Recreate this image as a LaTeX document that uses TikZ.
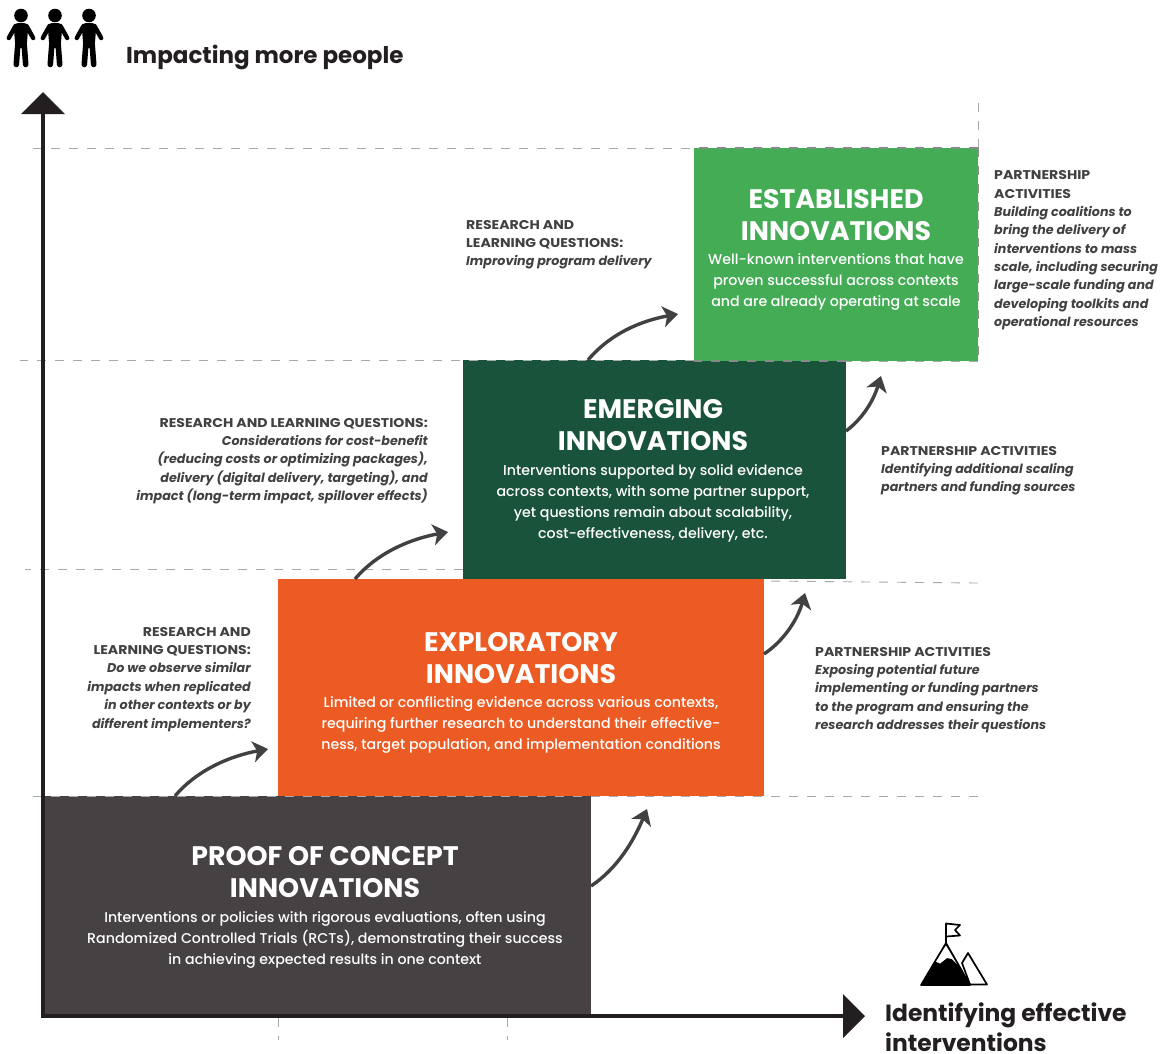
\documentclass[tikz,border=0pt]{standalone}
\usepackage{fontspec}
\setmainfont{Poppins}
\newfontfamily\bodyfont{Poppins Medium}
\newfontfamily\notehead[FakeStretch=1.11]{Poppins}
\usetikzlibrary{arrows.meta}
\definecolor{axisc}{HTML}{231F20}
\definecolor{notec}{HTML}{414042}
\definecolor{dashc}{HTML}{A7A9AC}
\definecolor{dashd}{HTML}{8A8A8A}
\definecolor{pocc}{HTML}{464243}
\definecolor{expc}{HTML}{EC5B23}
\definecolor{emec}{HTML}{1A533C}
\definecolor{estc}{HTML}{43AC55}
\newcommand{\nh}[1]{{\notehead\bfseries\upshape #1}}
\tikzset{
 x=1pt,y=-1pt,
 stagebox/.style={rectangle,inner sep=0pt,outer sep=0pt,anchor=north west},
 stagetitle/.style={text=white,align=center,font=\fontsize{26.8}{31.5}\selectfont\bfseries,inner sep=0pt},
 stagebody/.style={text=white,align=center,font=\bodyfont\fontsize{14.2}{21}\selectfont,inner sep=0pt},
 notel/.style={text=notec,align=left,font=\fontsize{12.7}{18.35}\selectfont\bfseries\itshape,inner sep=0pt,anchor=north west},
 noter/.style={text=notec,align=right,font=\fontsize{12.7}{18.35}\selectfont\bfseries\itshape,inner sep=0pt,anchor=north east},
 axislabel/.style={text=axisc,align=left,font=\fontsize{23}{30.5}\selectfont\bfseries,inner sep=0pt,anchor=west},
 axislabelx/.style={axislabel,font=\fontsize{23.4}{30.5}\selectfont\bfseries},
 guide/.style={dashc,line width=0.9pt,dash pattern=on 9pt off 9pt},
 guidedark/.style={dashd,line width=1.1pt,dash pattern=on 9pt off 9pt},
 axisline/.style={axisc,line width=4pt},
 flow/.style={notec,line width=3.4pt,-{Stealth[length=15pt,width=21pt,inset=4pt]}},
}
\newcommand{\personicon}[1]{%
 \begin{scope}[shift={(#1,0)},black,line cap=round]
  \fill (21,15.5) circle (6.8);
  \fill[rounded corners=3pt] (15,23) -- (27,23) -- (28,30) -- (26.5,48) -- (15.5,48) -- (14,30) -- cycle;
  \draw[line width=4.4pt] (15.5,26) -- (8.8,38);
  \draw[line width=4.4pt] (26.5,26) -- (33.2,38);
  \draw[line width=5.6pt] (18,42) -- (16.3,64.5);
  \draw[line width=5.6pt] (24,42) -- (25.7,64.5);
 \end{scope}}
\begin{document}
\begin{tikzpicture}
\useasboundingbox (0,0) rectangle (1164,1053);
\fill[white] (0,0) rectangle (1164,1053);
% boxes
\node[stagebox,fill=pocc,minimum width=547pt,minimum height=220pt] (poc) at (44,796) {};
\node[stagebox,fill=expc,minimum width=486pt,minimum height=217pt] (exp) at (278,579) {};
\node[stagebox,fill=emec,minimum width=383pt,minimum height=219pt] (eme) at (463,360) {};
\node[stagebox,fill=estc,minimum width=284pt,minimum height=213pt] (est) at (694,148) {};
% guides
\draw[guide] (690,148) -- (31,148);
\draw[guidedark] (978,148) -- (694,148);
\draw[guide] (694,360) -- (20,360);
\draw[guidedark] (846,361) -- (694,361);
\draw[guide] (978,361) -- (846,361);
\draw[guide] (463,569) -- (25,569);
\draw[guide] (978,583) -- (764,581);
\draw[guide] (978,796) -- (26,796);
\draw[guide] (978,148) -- (978,94);
\draw[guidedark] (978,148) -- (978,361);
\draw[guide] (278,1018) -- (278,1040);
\draw[guide] (507,1018) -- (507,1040);
% axes
\coordinate (origin) at (43,1016);
\coordinate (ytop) at (43,110);
\coordinate (xend) at (848,1016);
\draw[axisline] (43,1018) -- (ytop);
\draw[axisline] (origin) -- (xend);
\fill[axisc] (43,92) -- (65,114) -- (21,114) -- cycle;
\fill[axisc] (843,994) -- (865,1016) -- (843,1038) -- cycle;
% stage text
\node[stagetitle] (poct) at (325,872) {PROOF OF CONCEPT\\INNOVATIONS};
\node[stagebody] (pocb) at (325,939.5) {Interventions or policies with rigorous evaluations, often using\\Randomized Controlled Trials (RCTs), demonstrating their success\\in achieving expected results in one context};
\node[stagetitle] (expt) at (521,658) {EXPLORATORY\\INNOVATIONS};
\node[stagebody] (expb) at (521,725) {Limited or conflicting evidence across various contexts,\\requiring further research to understand their effective-\\ness, target population, and implementation conditions};
\node[stagetitle] (emet) at (653,425) {EMERGING\\INNOVATIONS};
\node[stagebody] (emeb) at (653,503.5) {Interventions supported by solid evidence\\across contexts, with some partner support,\\yet questions remain about scalability,\\cost-effectiveness, delivery, etc.};
\node[stagetitle] (estt) at (836,215) {ESTABLISHED\\INNOVATIONS};
\node[stagebody] (estb) at (836,282) {Well-known interventions that have\\proven successful across contexts\\and are already operating at scale};
% notes
\node[notel] (n1) at (466,220) {\nh{RESEARCH AND}\\\nh{LEARNING QUESTIONS:}\\Improving program delivery};
\node[notel] (n2) at (994,170.5) {\nh{PARTNERSHIP}\\\nh{ACTIVITIES}\\Building coalitions to\\bring the delivery of\\interventions to mass\\scale, including securing\\large-scale funding and\\developing toolkits and\\operational resources};
\node[noter] (n3) at (428,418) {\nh{RESEARCH AND LEARNING QUESTIONS:}\\Considerations for cost-benefit\\(reducing costs or optimizing packages),\\delivery (digital delivery, targeting), and\\impact (long-term impact, spillover effects)};
\node[notel] (n4) at (881,446) {\nh{PARTNERSHIP ACTIVITIES}\\Identifying additional scaling\\partners and funding sources};
\node[noter] (n5) at (251,627) {\nh{RESEARCH AND}\\\nh{LEARNING QUESTIONS:}\\Do we observe similar\\impacts when replicated\\in other contexts or by\\different implementers?};
\node[notel] (n6) at (815,647) {\nh{PARTNERSHIP ACTIVITIES}\\Exposing potential future\\implementing or funding partners\\to the program and ensuring the\\research addresses their questions};
% flows
\coordinate (t1) at (268,749); \coordinate (t2) at (448,532); \coordinate (t3) at (678,314);
\coordinate (t4) at (647,809); \coordinate (t5) at (805,593); \coordinate (t6) at (881,376);
\coordinate (s1) at (175,796); \coordinate (s2) at (355,579); \coordinate (s3) at (588,360);
\coordinate (s4) at (591,886); \coordinate (s5) at (764,654); \coordinate (s6) at (846,431);
\draw[flow] (s1) .. controls (197,770) and (230,756) .. (t1);
\draw[flow] (s2) .. controls (377,553) and (410,539) .. (t2);
\draw[flow] (s3) .. controls (610,334) and (640,321) .. (t3);
\draw[flow] (s4) .. controls (618,868) and (634,840) .. (t4);
\draw[flow] (s5) .. controls (785,640) and (798,618) .. (t5);
\draw[flow] (s6) .. controls (862,419) and (873,402) .. (t6);
% axis labels
\node[axislabel] (ylab) at (126,57.5) {Impacting more people};
\node[axislabelx] (xlab) at (885,1027) {Identifying effective\\interventions};
% people
\personicon{0}\personicon{34}\personicon{68}
% mountain
\begin{scope}[line join=round,black]
 \draw[line width=1.7pt,fill=white] (962,963) -- (968,953) -- (987,984.5) -- (970,984.5) -- cycle;
 \fill (921,985) -- (946,943) -- (970,985) -- cycle;
 \fill[white] (946,945.5) -- (934.5,961) -- (940,963.5) -- (947,958) -- (952,959) -- (958,965) -- cycle;
 \draw[line width=1.7pt] (921,985) -- (946,943) -- (970,985) -- cycle;
 \draw[line width=1.7pt] (946,943) -- (946,923.5) -- (960,925) -- (955,930) -- (960,935.5) -- (946,936.5);
\end{scope}
\end{tikzpicture}
\end{document}
